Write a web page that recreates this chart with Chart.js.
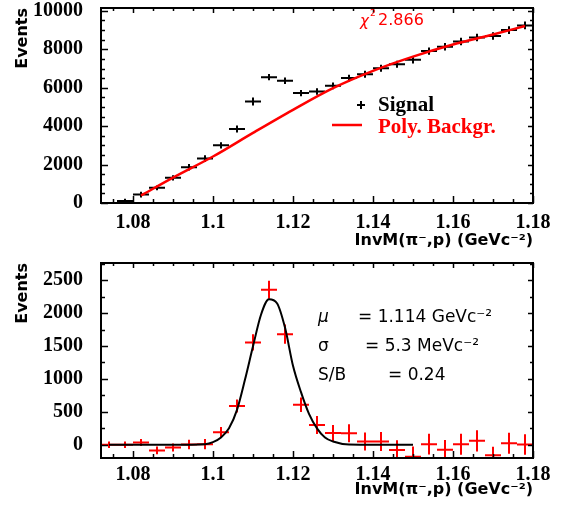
<!DOCTYPE html>
<html>
<head>
<meta charset="utf-8">
<script src="https://cdn.jsdelivr.net/npm/chart.js@4.4.0/dist/chart.umd.min.js"></script>
<style>
  html, body { margin: 0; padding: 0; background: #fff; }
  #wrap { position: relative; width: 569px; height: 506px; }
  canvas { position: absolute; left: 0; }
  #topChart { top: 0; }
  #bottomChart { top: 250px; }
</style>
</head>
<body>
<div id="wrap">
  <canvas id="topChart" width="569" height="250"></canvas>
  <canvas id="bottomChart" width="569" height="256"></canvas>
</div>
<script>
// bin centres of the invariant mass histogram (GeV)
const binCenters = [1.074, 1.078, 1.082, 1.086, 1.090, 1.094, 1.098, 1.102, 1.106, 1.110,
                    1.114, 1.118, 1.122, 1.126, 1.130, 1.134, 1.138, 1.142, 1.146, 1.150,
                    1.154, 1.158, 1.162, 1.166, 1.170, 1.174, 1.178];
const binWidth = 0.004;

// top panel: signal + background
const signalCounts = [null, 100, 440, 790, 1310, 1860, 2310, 3000, 3850, 5280,
                      6550, 6360, 5720, 5800, 6100, 6500, 6700, 7010, 7220, 7450,
                      7910, 8130, 8400, 8620, 8690, 9000, 9240];
const signalErrors = [0, 120, 148, 120, 138, 164, 181, 164, 181, 208,
                      164, 170, 165, 170, 175, 178, 180, 182, 185, 188,
                      190, 192, 195, 196, 198, 200, 202];
// polynomial background fit
const bkgX = [1.082, 1.09, 1.10, 1.11, 1.12, 1.13, 1.14, 1.15, 1.16, 1.17, 1.178];
const bkgY = [390, 1320, 2420, 3650, 4850, 5980, 6880, 7620, 8250, 8770, 9210];

// bottom panel: background subtracted
const peakCounts = [0, 0, 35, -85, -40, 5, 10, 190, 590, 1555,
                    2355, 1680, 610, 300, 178, 175, 50, 50, -80, -180,
                    10, -75, 10, 60, -160, 25, 5];
const peakErrors = [50, 50, 53, 58, 61, 71, 78, 81, 99, 124,
                    137, 145, 110, 137, 122, 137, 137, 145, 150, 155,
                    157, 150, 160, 160, 130, 160, 157];
// gaussian fit curve
const fitX = [1.074, 1.09, 1.098, 1.10, 1.102, 1.104, 1.106, 1.108, 1.110, 1.112,
              1.114, 1.116, 1.118, 1.120, 1.122, 1.124, 1.126, 1.128, 1.130, 1.134, 1.150];
const fitY = [0, 0, 10, 40, 110, 250, 530, 990, 1495, 1975,
              2210, 2150, 1780, 1200, 800, 470, 250, 110, 50, 5, 0];

const xTickValues = [1.08, 1.10, 1.12, 1.14, 1.16, 1.18];
const xTickLabels = ['1.08', '1.1', '1.12', '1.14', '1.16', '1.18'];
const topYTicks = [0, 2000, 4000, 6000, 8000, 10000];
const bottomYTicks = [0, 500, 1000, 1500, 2000, 2500];

const xTitle = 'InvM(\u03c0\u207b,p) (GeVc\u207b\u00b2)';

// "+" markers: horizontal bin width bar and vertical error bar
function crossSegments(values, errors) {
  const pts = [];
  binCenters.forEach((c, i) => {
    const v = values[i];
    if (v === null) return;
    pts.push({ x: c - binWidth / 2, y: v }, { x: c + binWidth / 2, y: v }, { x: c, y: null });
    pts.push({ x: c, y: v - errors[i] }, { x: c, y: v + errors[i] }, { x: c, y: null });
  });
  return pts;
}

function curve(xs, ys) {
  return xs.map((x, i) => ({ x: x, y: ys[i] }));
}

// ROOT style frame with inward ticks on all four sides
const frameTicks = {
  id: 'frameTicks',
  afterDraw(chart, args, opts) {
    const { ctx, chartArea: a } = chart;
    const xs = chart.scales.x, ys = chart.scales.y;
    ctx.save();
    ctx.strokeStyle = '#000';
    ctx.lineWidth = 1.5;
    ctx.beginPath();
    const i0 = Math.ceil(xs.min / opts.xMinor - 1e-6);
    for (let i = i0; i * opts.xMinor <= xs.max + 1e-9; i++) {
      const v = i * opts.xMinor;
      const major = Math.abs(v / opts.xMajor - Math.round(v / opts.xMajor)) < 1e-6;
      const px = Math.round(xs.getPixelForValue(v)) + 0.5;
      ctx.moveTo(px, a.bottom); ctx.lineTo(px, a.bottom - (major ? 7 : 4));
      ctx.moveTo(px, a.top); ctx.lineTo(px, a.top + (major ? 5 : 3));
    }
    const j0 = Math.ceil(ys.min / opts.yMinor - 1e-6);
    for (let j = j0; j * opts.yMinor <= ys.max + 1e-9; j++) {
      const v = j * opts.yMinor;
      const major = Math.abs(v / opts.yMajor - Math.round(v / opts.yMajor)) < 1e-6;
      const py = Math.round(ys.getPixelForValue(v)) + 0.5;
      ctx.moveTo(a.left, py); ctx.lineTo(a.left + (major ? 7 : 4), py);
      ctx.moveTo(a.right, py); ctx.lineTo(a.right - (major ? 5 : 3), py);
    }
    ctx.stroke();
    ctx.lineWidth = 2;
    ctx.strokeRect(a.left, a.top, a.right - a.left, a.bottom - a.top);
    ctx.restore();
  }
};

const topNotes = {
  id: 'topNotes',
  afterDraw(chart) {
    const ctx = chart.ctx;
    ctx.save();
    ctx.textBaseline = 'middle';
    ctx.fillStyle = '#ff0000';
    ctx.font = 'italic 15px "DejaVu Sans"';
    ctx.fillText('\u03c7', 360, 22);
    ctx.font = '9px "DejaVu Sans"';
    ctx.fillText('2', 370, 14);
    ctx.font = '16px "DejaVu Sans"';
    ctx.fillText('2.866', 378, 21);
    // legend
    ctx.strokeStyle = '#000';
    ctx.lineWidth = 2;
    ctx.beginPath();
    ctx.moveTo(357, 105); ctx.lineTo(365, 105);
    ctx.moveTo(361, 101); ctx.lineTo(361, 109);
    ctx.stroke();
    ctx.strokeStyle = '#ff0000';
    ctx.lineWidth = 2.5;
    ctx.beginPath();
    ctx.moveTo(332, 125); ctx.lineTo(362, 125);
    ctx.stroke();
    ctx.font = 'bold 21px "Liberation Serif"';
    ctx.fillStyle = '#000';
    ctx.fillText('Signal', 378, 106);
    ctx.fillStyle = '#ff0000';
    ctx.fillText('Poly. Backgr.', 378, 128);
    ctx.restore();
  }
};

const bottomNotes = {
  id: 'bottomNotes',
  afterDraw(chart) {
    const ctx = chart.ctx;
    ctx.save();
    ctx.textBaseline = 'middle';
    ctx.fillStyle = '#000';
    ctx.font = 'italic 17px "DejaVu Sans"';
    ctx.fillText('\u03bc', 318, 68);
    ctx.font = '17px "DejaVu Sans"';
    ctx.fillText('= 1.114 GeVc\u207b\u00b2', 358, 68);
    ctx.fillText('\u03c3', 318, 97);
    ctx.fillText('= 5.3 MeVc\u207b\u00b2', 365, 97);
    ctx.fillText('S/B', 318, 126);
    ctx.fillText('= 0.24', 388, 126);
    ctx.restore();
  }
};

function noPadding(s) {
  s.paddingTop = 0;
  s.paddingBottom = 0;
  s.paddingLeft = 0;
  s.paddingRight = 0;
}

function makeOptions(yMin, yMax, yTicks, topPad, xAxisHeight, xLabelPad, xTitlePad, minorCfg) {
  return {
    responsive: false,
    animation: false,
    devicePixelRatio: 1,
    layout: { padding: { left: 0, right: 36, top: topPad, bottom: 0 } },
    plugins: {
      legend: { display: false },
      tooltip: { enabled: false },
      frameTicks: minorCfg
    },
    scales: {
      x: {
        type: 'linear',
        min: 1.072,
        max: 1.18,
        afterBuildTicks: (s) => { s.ticks = xTickValues.map(v => ({ value: v })); },
        afterFit: (s) => { s.height = xAxisHeight; noPadding(s); },
        grid: { display: false, drawTicks: false },
        border: { display: false },
        ticks: {
          padding: xLabelPad,
          color: '#000',
          maxRotation: 0,
          autoSkip: false,
          font: { family: '"Liberation Serif"', size: 20, weight: 'bold' },
          callback: (v) => xTickLabels[xTickValues.findIndex(t => Math.abs(t - v) < 1e-9)]
        },
        title: {
          display: true,
          text: xTitle,
          align: 'end',
          color: '#000',
          padding: { top: 0, bottom: xTitlePad },
          font: { family: '"DejaVu Sans"', size: 16, weight: 'bold' }
        }
      },
      y: {
        type: 'linear',
        min: yMin,
        max: yMax,
        afterBuildTicks: (s) => { s.ticks = yTicks.map(v => ({ value: v })); },
        afterFit: (s) => { s.width = 101; noPadding(s); },
        grid: { display: false, drawTicks: false },
        border: { display: false },
        ticks: {
          padding: 18,
          color: '#000',
          autoSkip: false,
          font: { family: '"Liberation Serif"', size: 20, weight: 'bold' },
          callback: (v) => String(v)
        },
        title: {
          display: true,
          text: 'Events',
          align: 'end',
          color: '#000',
          padding: { top: 13, bottom: 0 },
          font: { family: '"DejaVu Sans"', size: 16, weight: 'bold' }
        }
      }
    }
  };
}

new Chart(document.getElementById('topChart'), {
  type: 'scatter',
  data: {
    datasets: [
      {
        label: 'Poly. Backgr.',
        data: curve(bkgX, bkgY),
        showLine: true,
        borderColor: '#ff0000',
        borderWidth: 2.5,
        pointRadius: 0,
        cubicInterpolationMode: 'monotone',
        clip: 0
      },
      {
        label: 'Signal',
        data: crossSegments(signalCounts, signalErrors),
        showLine: true,
        spanGaps: false,
        borderColor: '#000',
        borderWidth: 2,
        pointRadius: 0,
        clip: 0
      }
    ]
  },
  options: makeOptions(0, 10150, topYTicks, 8, 47, 8, 0,
    { xMinor: 0.005, xMajor: 0.02, yMinor: 500, yMajor: 2000 }),
  plugins: [frameTicks, topNotes]
});

new Chart(document.getElementById('bottomChart'), {
  type: 'scatter',
  data: {
    datasets: [
      {
        label: 'Fit',
        data: curve(fitX, fitY),
        showLine: true,
        borderColor: '#000',
        borderWidth: 2,
        pointRadius: 0,
        cubicInterpolationMode: 'monotone',
        clip: 0
      },
      {
        label: 'Signal - Backgr.',
        data: crossSegments(peakCounts, peakErrors),
        showLine: true,
        spanGaps: false,
        borderColor: '#ff0000',
        borderWidth: 2,
        pointRadius: 0,
        clip: 0
      }
    ]
  },
  options: makeOptions(-200, 2760, bottomYTicks, 13, 48, 5, 7,
    { xMinor: 0.005, xMajor: 0.02, yMinor: 250, yMajor: 500 }),
  plugins: [frameTicks, bottomNotes]
});
</script>
</body>
</html>
